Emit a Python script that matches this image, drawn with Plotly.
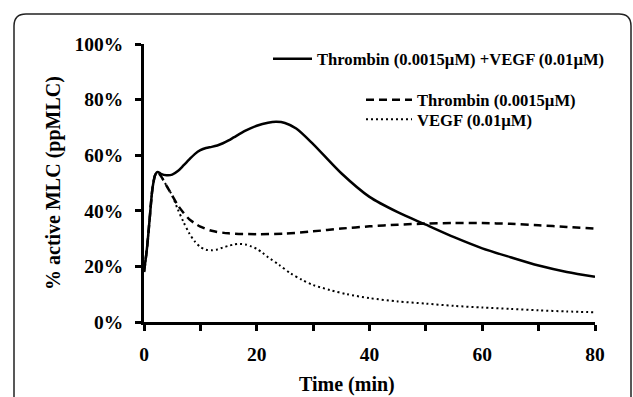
import plotly.graph_objects as go

# ---- data ----
time_combo = [0, 0.5, 1.0, 1.5, 2.0, 2.4, 3, 4, 5, 6, 7, 8, 9, 10, 11, 12, 13, 14, 15, 16, 18, 20, 22,
              23.5, 25, 27, 30, 35, 40, 45, 50, 55, 60, 65, 70, 75, 80]
combo = [18, 26, 37, 48, 53, 54, 53.3, 52.8, 53, 54.3, 56.3, 58.4, 60.4, 61.8, 62.6, 63.0, 63.5, 64.3, 65.3,
         66.5, 68.8, 70.6, 71.7, 72.0, 71.6, 69.6, 64.0, 53.5, 45.0, 39.5, 35.0, 30.5, 26.5, 23.3, 20.3,
         18.0, 16.3]

time_thrombin = [0, 0.5, 1.0, 1.5, 2.0, 2.4, 3, 4, 5, 6, 7, 8, 9, 10, 12, 15, 20, 25, 30, 35, 40, 45, 50,
                 55, 60, 65, 70, 75, 80]
thrombin = [18, 26, 37, 48, 53, 54, 52.5, 49, 45.5, 42, 39.3, 37, 35.5, 34.3, 32.8, 31.9, 31.6, 31.8, 32.6,
            33.6, 34.4, 35.0, 35.4, 35.6, 35.6, 35.3, 34.8, 34.2, 33.6]

time_vegf = [0, 0.5, 1.0, 1.5, 2.0, 2.4, 3, 4, 5, 6, 7, 8, 9, 10, 11, 12, 13, 14, 15, 16, 17, 18, 19, 20,
             21, 22, 24, 26, 28, 30, 33, 36, 40, 45, 50, 55, 60, 65, 70, 75, 80]
vegf = [18, 26, 37, 48, 53, 54, 52.5, 49, 45.5, 40.5, 36, 32, 29, 27, 26, 25.8, 26.1, 26.8, 27.4, 27.9,
        28.1, 27.9, 27.2, 26.3, 24.9, 23.3, 20.5, 17.5, 15.2, 13.3, 11.5, 10.0, 8.6, 7.4, 6.6, 5.8, 5.2,
        4.7, 4.2, 3.8, 3.5]

series_names = ["Thrombin (0.0015µM) +VEGF (0.01µM)", "Thrombin (0.0015µM)", "VEGF (0.01µM)"]
x_tick_vals = [0, 20, 40, 60, 80]
x_tick_text = ["0", "20", "40", "60", "80"]
y_tick_vals = [0, 20, 40, 60, 80, 100]
y_tick_text = ["0%", "20%", "40%", "60%", "80%", "100%"]
x_title = "Time (min)"
y_title = "% active MLC (ppMLC)"

# ---- layout geometry (pixels) ----
W, H = 633, 397
L, R, T, B = 144, 38, 44, 75
PW, PH = W - L - R, H - T - B


def px_x(p):
    return (p - L) / PW


def px_y(p):
    return (H - B - p) / PH


FONT = "Liberation Serif"
bold = dict(family=FONT, color="black", weight="bold")

fig = go.Figure()
fig.add_trace(go.Scatter(x=time_combo, y=combo, mode="lines", name=series_names[0],
                         line=dict(color="black", width=2.5, shape="spline", smoothing=0.8),
                         legend="legend"))
fig.add_trace(go.Scatter(x=time_thrombin, y=thrombin, mode="lines", name=series_names[1],
                         line=dict(color="black", width=2.5, dash="8px,5px", shape="spline", smoothing=0.8),
                         legend="legend2"))
fig.add_trace(go.Scatter(x=time_vegf, y=vegf, mode="lines", name=series_names[2],
                         line=dict(color="black", width=2, dash="2px,3px", shape="spline", smoothing=0.8),
                         legend="legend3"))

axis_common = dict(showgrid=False, zeroline=False, showline=True, linecolor="black", linewidth=2.5,
                   ticks="outside", tickcolor="black", tickwidth=2.5, ticklen=6,
                   tickfont=dict(size=19.5, **bold), automargin=False)

leg_common = dict(bgcolor="rgba(0,0,0,0)", borderwidth=0, font=dict(size=16.6, **bold),
                  xanchor="left", yanchor="middle", orientation="v")

fig.update_layout(
    width=W, height=H,
    margin=dict(l=L, r=R, t=T, b=B),
    paper_bgcolor="white", plot_bgcolor="white",
    showlegend=True,
    xaxis=dict(range=[0, 80], tickvals=x_tick_vals, ticktext=x_tick_text,
               minor=dict(dtick=10, ticks="outside", ticklen=6, tickwidth=2.5, tickcolor="black"),
               ticklabelstandoff=7, **axis_common),
    yaxis=dict(range=[0, 100], tickvals=y_tick_vals, ticktext=y_tick_text,
               ticklabelstandoff=8, **axis_common),
    legend=dict(x=px_x(268), y=px_y(59), itemwidth=39, **leg_common),
    legend2=dict(x=px_x(361), y=px_y(100), itemwidth=46, **leg_common),
    legend3=dict(x=px_x(361), y=px_y(119.5), itemwidth=46, **leg_common),
)

# axis titles as text annotations placed like the reference
fig.add_annotation(text=x_title, xref="paper", yref="paper", x=px_x(347), y=px_y(384),
                   xanchor="center", yanchor="middle", showarrow=False, font=dict(size=20, **bold))
fig.add_annotation(text=y_title, xref="paper", yref="paper", x=px_x(53), y=px_y(183),
                   xanchor="center", yanchor="middle", textangle=-90, showarrow=False,
                   font=dict(size=20, **bold))

# rounded frame around the figure (open at the bottom, as in the reference)
x0, x1 = px_x(14), px_x(631)
yt, yb = px_y(14), px_y(420)
rx, ry = 12 / PW, 12 / PH
frame = (f"M {x0},{yb} L {x0},{yt - ry} Q {x0},{yt} {x0 + rx},{yt} "
         f"L {x1 - rx},{yt} Q {x1},{yt} {x1},{yt - ry} L {x1},{yb}")
fig.add_shape(type="path", path=frame, xref="paper", yref="paper",
              line=dict(color="#222222", width=1.5), layer="below")

fig.write_html("out.html")
